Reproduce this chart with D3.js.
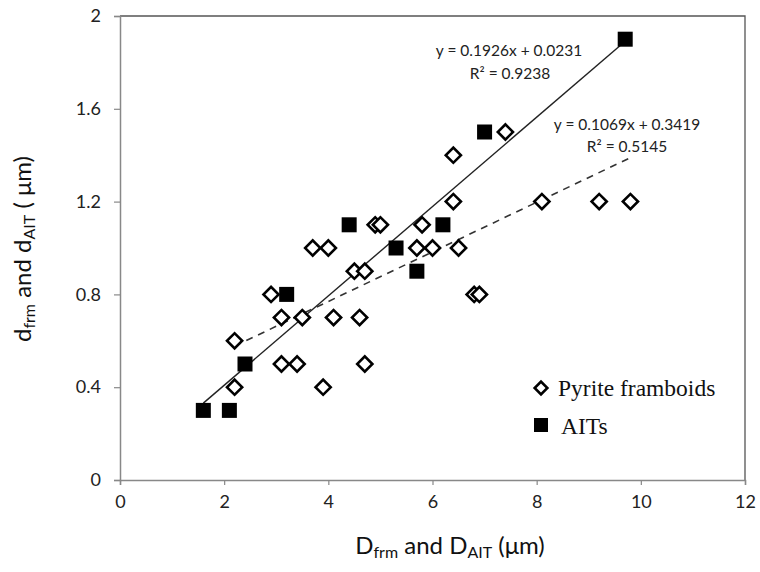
<!DOCTYPE html>
<html>
<head>
<meta charset="utf-8">
<script src="https://cdn.jsdelivr.net/npm/d3@7"></script>
<style>
  body { margin: 0; background: #fff; }
  svg { display: block; }
</style>
</head>
<body>
<svg id="chart"></svg>
<script>
// pyrite framboids (open diamonds)
const frmD = [2.2, 2.2, 2.9, 3.1, 3.1, 3.4, 3.5, 3.7, 4.0, 4.1, 3.9, 4.5, 4.7, 4.6, 4.7, 4.9, 5.0, 5.7, 5.8, 6.0, 6.4, 6.4, 6.5, 6.8, 6.9, 7.4, 8.1, 9.2, 9.8];
const frmd = [0.6, 0.4, 0.8, 0.7, 0.5, 0.5, 0.7, 1.0, 1.0, 0.7, 0.4, 0.9, 0.9, 0.7, 0.5, 1.1, 1.1, 1.0, 1.1, 1.0, 1.2, 1.4, 1.0, 0.8, 0.8, 1.5, 1.2, 1.2, 1.2];
// AITs (filled squares)
const aitD = [1.6, 2.1, 2.4, 3.2, 4.4, 5.3, 5.7, 6.2, 7.0, 9.7];
const aitd = [0.3, 0.3, 0.5, 0.8, 1.1, 1.0, 0.9, 1.1, 1.5, 1.9];
// trend lines
const fitAit = {slope: 0.1926, icept: 0.0231, from: 1.6, to: 9.7};
const fitFrm = {slope: 0.1069, icept: 0.3419, from: 2.2, to: 9.8};
const xTicks = [0, 2, 4, 6, 8, 10, 12];
const yTicks = [0, 0.4, 0.8, 1.2, 1.6, 2];

const width = 760, height = 572;
const m = {left: 120, right: 15, top: 16, bottom: 92};
const sans = "Lato, 'Open Sans', sans-serif";

const svg = d3.select('#chart').attr('width', width).attr('height', height);

const x = d3.scaleLinear().domain([0, 12]).range([m.left, width - m.right]);
const y = d3.scaleLinear().domain([0, 2]).range([height - m.bottom, m.top]);

// frame (top / right)
svg.append('path')
    .attr('d', `M${x(0)},${y(2)}H${x(12)}V${y(0)}`)
    .attr('fill', 'none').attr('stroke', '#555').attr('stroke-width', 1.3);

const xAxis = svg.append('g')
    .attr('transform', `translate(0,${y(0)})`)
    .call(d3.axisBottom(x).tickValues(xTicks).tickSize(5).tickPadding(10).tickFormat(d3.format('d')));
const yAxis = svg.append('g')
    .attr('transform', `translate(${x(0)},0)`)
    .call(d3.axisLeft(y).tickValues(yTicks).tickSize(6).tickPadding(13).tickFormat(d => d === 0 || d === 2 ? d : d.toFixed(1)));
[xAxis, yAxis].forEach(a => {
    a.select('.domain').attr('stroke', '#888').attr('stroke-width', 1.5);
    a.selectAll('line').attr('stroke', '#888').attr('stroke-width', 1.2);
    a.selectAll('text').attr('font-family', sans).attr('font-size', 18).attr('fill', '#222');
});

// trend lines
const line = d3.line().x(d => x(d[0])).y(d => y(d[1]));
const fitPts = f => [[f.from, f.slope * f.from + f.icept], [f.to, f.slope * f.to + f.icept]];
svg.append('path').attr('d', line(fitPts(fitAit)))
    .attr('fill', 'none').attr('stroke', '#222').attr('stroke-width', 1.4);
svg.append('path').attr('d', line(fitPts(fitFrm)))
    .attr('fill', 'none').attr('stroke', '#333').attr('stroke-width', 1.6).attr('stroke-dasharray', '7,6');

// points
const diamond = d3.symbol().type(d3.symbolSquare).size(115);
svg.append('g').selectAll('path')
    .data(frmD.map((d, i) => [d, frmd[i]]))
    .join('path')
    .attr('d', diamond)
    .attr('transform', d => `translate(${x(d[0])},${y(d[1])}) rotate(45)`)
    .attr('fill', '#fff').attr('stroke', '#000').attr('stroke-width', 2.6);

svg.append('g').selectAll('rect')
    .data(aitD.map((d, i) => [d, aitd[i]]))
    .join('rect')
    .attr('x', d => x(d[0]) - 7.5).attr('y', d => y(d[1]) - 7.5)
    .attr('width', 15).attr('height', 15)
    .attr('fill', '#000');

// equations
const eq = svg.append('g').attr('font-family', sans).attr('font-size', 15.5).attr('fill', '#222').attr('text-anchor', 'middle');
eq.append('text').attr('x', 509).attr('y', 56).text('y = 0.1926x + 0.0231');
eq.append('text').attr('x', 510).attr('y', 79).text('R² = 0.9238');
eq.append('text').attr('x', 627).attr('y', 130).text('y = 0.1069x + 0.3419');
eq.append('text').attr('x', 627).attr('y', 152).text('R² = 0.5145');

// legend
const lg = svg.append('g').attr('font-family', "'Liberation Serif', 'Times New Roman', serif").attr('font-size', 23.5).attr('fill', '#111');
lg.append('path').attr('d', d3.symbol().type(d3.symbolSquare).size(80))
    .attr('transform', 'translate(541,388) rotate(45)')
    .attr('fill', '#fff').attr('stroke', '#000').attr('stroke-width', 2.6);
lg.append('text').attr('x', 558).attr('y', 396).text('Pyrite framboids');
lg.append('rect').attr('x', 534).attr('y', 418).attr('width', 14).attr('height', 14).attr('fill', '#000');
lg.append('text').attr('x', 561).attr('y', 434).text('AITs');

// axis titles
const xt = svg.append('text').attr('x', 450).attr('y', 554).attr('text-anchor', 'middle')
    .attr('font-family', sans).attr('font-size', 24).attr('fill', '#111');
xt.append('tspan').text('D');
xt.append('tspan').attr('font-size', 16).attr('dy', 4).text('frm');
xt.append('tspan').attr('dy', -4).text(' and D');
xt.append('tspan').attr('font-size', 16).attr('dy', 4).text('AIT');
xt.append('tspan').attr('dy', -4).text(' (μm)');

const yt = svg.append('text').attr('transform', 'translate(31,249) rotate(-90)').attr('text-anchor', 'middle')
    .attr('font-family', sans).attr('font-size', 24).attr('fill', '#111');
yt.append('tspan').text('d');
yt.append('tspan').attr('font-size', 16).attr('dy', 4).text('frm');
yt.append('tspan').attr('dy', -4).text(' and d');
yt.append('tspan').attr('font-size', 16).attr('dy', 4).text('AIT');
yt.append('tspan').attr('dy', -4).text('  ( μm)');
</script>
</body>
</html>
